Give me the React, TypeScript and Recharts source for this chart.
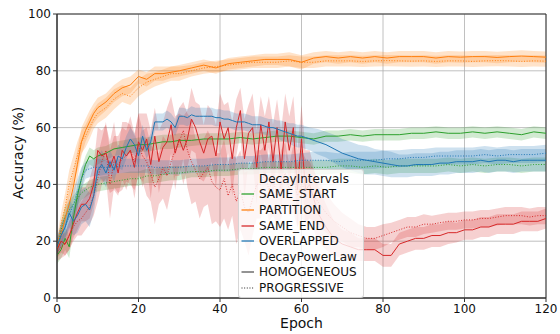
import React from "react";
import {
  ComposedChart,
  Line,
  Area,
  XAxis,
  YAxis,
  CartesianGrid,
  ReferenceArea,
  Label,
} from "recharts";

const X_TICKS = [0, 20, 40, 60, 80, 100, 120];
const Y_TICKS = [0, 20, 40, 60, 80, 100];

// epochs sampled for the smoother curves
const GRID_SMOOTH = [
  0, 1, 2, 3, 4, 5, 6, 7, 8, 9, 10, 12, 14, 16, 18, 20, 22, 24, 26, 28, 30, 33,
  36, 39, 42, 45, 48, 51, 54, 57, 60, 63, 66, 69, 72, 75, 78, 81, 84, 87, 90,
  93, 96, 99, 102, 105, 108, 111, 114, 117, 120,
];

// epochs sampled for the noisy curves
const GRID_NOISY = [
  0, 1, 2, 3, 4, 5, 6, 7, 8, 9, 10, 11, 12, 13, 14, 15, 16, 17, 18, 19, 20, 21,
  22, 23, 24, 25, 26, 27, 28, 29, 30, 31, 32, 33, 34, 35, 36, 37, 38, 39, 40,
  41, 42, 43, 44, 45, 46, 47, 48, 49, 50, 51, 52, 53, 54, 55, 56, 57, 58, 59,
  60, 61, 62, 64, 66, 68, 70, 72, 74, 76, 78, 80, 82, 84, 86, 88, 90, 92, 94,
  96, 98, 100, 102, 104, 106, 108, 110, 112, 114, 116, 118, 120,
];

const PARTITION_HOMO = [
  17, 22, 28, 33, 39, 47, 55, 59, 62, 65, 67,
  69, 72, 74, 75, 78, 77, 79, 79, 79.5, 80,
  81, 82, 81, 82.5, 83, 83.5, 84, 84, 84, 83,
  84.5, 85, 84.5, 85, 84.5, 85, 84.5, 85, 85, 85,
  84.5, 85, 84.8, 85, 85, 84.7, 85, 85.2, 85, 84.8,
];
const PARTITION_HOMO_SD = [
  3, 4, 4, 5, 5, 5, 5, 4, 4, 3.5, 3.5,
  3, 3, 3, 3, 2.5, 2.5, 2.5, 2.5, 2, 2,
  2, 2, 2, 2, 2, 2, 2, 2, 2.5, 2.5,
  2, 2, 2, 2, 2, 2, 2, 2, 2, 2,
  2, 2, 2, 2, 2, 2, 2, 2, 2, 2,
];
const PARTITION_PROG = [
  18, 26, 32, 40, 45, 50, 55, 57, 60, 63, 65,
  67, 70, 72, 71, 74, 76, 77, 78, 79, 79,
  80, 81, 81.5, 82, 82.5, 83, 83, 83, 83.5, 83,
  83, 83.5, 83.5, 83.5, 83.3, 83.5, 83.6, 83.5, 83.4, 83.5,
  83.3, 83.5, 83.5, 83.3, 83.5, 83.6, 83.5, 83.3, 83.5, 83.4,
];
const PARTITION_PROG_SD = [
  3, 4, 5, 5, 5, 5, 4, 4, 4, 3.5, 3.5,
  3.5, 3.5, 3, 3, 3, 3, 2.5, 2.5, 2.5, 2.5,
  2, 2, 2, 2, 2, 2, 2, 2, 2, 2,
  2, 2, 2, 2, 2, 2, 2, 2, 2, 2,
  2, 2, 2, 2, 2, 2, 2, 2, 2, 2,
];

const SAME_START_HOMO = [
  15, 17, 21, 18, 28, 36, 42, 47, 50, 49, 50,
  51, 52.5, 53, 53.5, 54, 54, 54.5, 55, 55, 55.5,
  55.5, 56, 56, 56, 56.5, 56, 56.5, 57, 57, 56.5,
  56, 57, 57, 57.5, 57, 57.5, 57.5, 57.5, 58, 58,
  58.5, 58, 58, 58.5, 58, 58.5, 58, 57.5, 58.5, 58,
];
const SAME_START_HOMO_SD = [
  3, 3, 4, 4, 4, 4, 3.5, 3, 3, 3, 3,
  2.5, 2.5, 2.5, 2.5, 2.5, 2.5, 2.5, 2.5, 2.5, 2.5,
  2, 2, 2, 2, 2, 2, 2, 2, 2, 2,
  2, 2, 2, 2, 2, 2, 2, 2, 2, 2,
  2, 2, 2, 2, 2, 2, 2, 2, 2, 2,
];
const SAME_START_PROG = [
  17, 24, 29, 31, 33, 35, 37, 38, 39, 39.5, 40,
  40.5, 41, 41.5, 42, 42, 43, 43, 43.5, 44, 44,
  44.5, 44.5, 45, 45, 45.5, 45.5, 46, 46, 46, 46,
  46, 46, 46.5, 46.5, 46, 46.5, 46, 46.5, 46.5, 46.5,
  46.5, 47, 46.5, 47, 46.5, 47, 47, 46.5, 47, 47,
];
const SAME_START_PROG_SD = [
  3, 3, 3, 3, 3, 3, 2.5, 2.5, 2.5, 2.5, 2.5,
  2.5, 2.5, 2.5, 2.5, 2.5, 2.5, 2.5, 2.5, 2.5, 2.5,
  2, 2, 2, 2, 2, 2, 2, 2, 2, 2,
  2.5, 2.5, 2.5, 2.5, 2.5, 2.5, 2.5, 2.5, 2.5, 2.5,
  2.5, 2.5, 2.5, 2.5, 2.5, 2.5, 2.5, 2.5, 2.5, 2.5,
];

const OVERLAPPED_PROG = [
  18, 22, 25, 29, 33, 37, 42, 45, 45.5, 46, 46,
  46, 46, 46.5, 46.5, 46.5, 46.5, 46, 46, 46, 46,
  46.5, 46.5, 47, 47, 47.5, 47.5, 48, 48, 48, 48.5,
  48.5, 48.5, 48, 48.5, 48.5, 48.5, 49, 49, 49.5, 49.5,
  50, 50, 50, 50, 50.5, 50, 50.5, 50.5, 50.5, 51,
];
const OVERLAPPED_PROG_SD = [
  3, 4, 4, 5, 5, 5, 4, 3, 3, 3, 3,
  2.5, 2.5, 2.5, 2.5, 2.5, 2.5, 2.5, 2.5, 2.5, 2.5,
  2.5, 2.5, 2.5, 2.5, 2.5, 2.5, 2.5, 2.5, 2.5, 2.5,
  3, 3, 3, 3, 3, 3, 3, 3, 3, 3,
  3, 3, 3, 3, 3, 3, 3, 3, 3, 3,
];

const OVERLAPPED_HOMO = [
  18, 22, 25, 30, 27, 29, 32, 33, 31, 36,
  45, 47, 44, 48, 45, 50, 49, 53, 56, 54,
  50, 57, 52, 55, 62, 62, 62, 63, 62, 60,
  64, 64, 63.5, 64.5, 64, 64, 64, 64, 64, 63.5,
  63.5, 63, 63, 62.5, 62, 62, 62, 61.5, 61, 61,
  61, 60.5, 60, 60, 59.5, 59, 58.5, 58, 57.5, 57,
  57, 56.5, 56,
  55, 54, 52.5, 51, 50, 49, 48.5, 48, 47.5, 47,
  46.5, 46.5, 47, 47, 47, 47.5, 47.5, 48, 48, 48,
  48.5, 48, 48.5, 48.5, 48, 48.5, 48.5, 48.5, 48.5,
];
const OVERLAPPED_HOMO_SD = [
  3, 4, 4, 5, 5, 6, 6, 6, 6, 6,
  5, 5, 5, 4, 4, 4, 4, 4, 4, 4,
  4, 4, 3, 3, 3, 3, 3, 3, 3, 3,
  3, 3, 3, 3, 3, 3, 3, 3, 3, 3,
  3, 3, 3, 3, 3, 3, 3, 3, 3, 3,
  3, 3, 3, 3, 3, 3.5, 3.5, 3.5, 4, 4,
  4, 4, 4,
  4.5, 4.5, 5, 5, 5, 5, 5, 4.5, 4.5, 4.5,
  4, 4, 4, 4, 4, 4, 4, 4, 4, 4,
  4, 4, 4, 4, 4, 4, 4, 4, 4,
];

const SAME_END_HOMO = [
  17, 20, 19, 22, 26, 30, 33, 33, 35, 40,
  52, 50, 51, 46, 50, 44, 52, 50, 52, 46,
  55, 52, 56, 47, 57, 48, 53, 55, 61, 51,
  56, 52, 56, 63, 60, 55, 51, 56, 57, 50,
  62, 56, 60, 49, 60, 66, 49, 58, 60, 46,
  61, 52, 62, 48, 60, 45, 62, 52, 60, 38,
  56, 38, 40,
  30, 25, 21, 19, 18, 17, 17, 17, 15, 15,
  19, 20, 21, 21, 22, 22, 23, 23, 24, 24,
  25, 25, 26, 26, 26, 27, 27, 27, 28,
];
const SAME_END_HOMO_SD = [
  3, 4, 4, 5, 5, 6, 6, 6, 7, 7,
  8, 9, 10, 9, 12, 8, 10, 12, 9, 11,
  10, 13, 9, 12, 10, 11, 9, 12, 10, 13,
  9, 12, 10, 11, 9, 13, 10, 12, 9, 11,
  10, 12, 9, 13, 10, 8, 14, 10, 12, 13,
  10, 12, 9, 13, 10, 14, 10, 12, 11, 14,
  12, 14, 12,
  10, 8, 6, 5, 5, 4, 4, 4, 4, 4,
  4, 4, 4, 4, 4, 4, 4, 3.5, 3.5, 3.5,
  3.5, 3.5, 3.5, 3.5, 3.5, 3.5, 3.5, 3.5, 3.5,
];
const SAME_END_PROG = [
  16, 18, 19, 22, 25, 27, 28, 30, 32, 36,
  42, 48, 52, 40, 48, 47, 49, 50, 52, 48,
  54, 50, 48, 44, 39, 42, 46, 43, 48, 52,
  55, 59, 52, 48, 45, 42, 44, 46, 41, 39,
  38, 42, 36, 40, 34, 38, 32, 30, 35, 40,
  40, 44, 38, 42, 36, 40, 44, 38, 42, 36,
  40, 38, 38,
  34, 30, 27, 25, 23, 22, 21, 21, 22, 23,
  24, 25, 25, 26, 26, 26.5, 27, 27, 27.5, 27.5,
  28, 28, 28.5, 29, 29, 29, 28.5, 29, 29,
];
const SAME_END_PROG_SD = [
  3, 4, 4, 5, 5, 5, 6, 6, 6, 7,
  8, 8, 10, 12, 9, 10, 11, 9, 12, 10,
  11, 9, 12, 10, 13, 9, 11, 12, 10, 9,
  12, 10, 13, 15, 11, 14, 12, 13, 15, 12,
  13, 14, 12, 11, 15, 14, 12, 15, 13, 12,
  12, 10, 11, 13, 10, 12, 11, 9, 12, 11,
  12, 11, 10,
  8, 7, 6, 5, 5, 4, 4, 4, 4, 3.5,
  3.5, 3.5, 3.5, 3.5, 3, 3, 3, 3, 3, 3,
  3, 3, 3, 3, 3, 3, 3, 3, 3,
];

const COLORS = {
  SAME_START: "#2ca02c",
  PARTITION: "#ff7f0e",
  SAME_END: "#d62728",
  OVERLAPPED: "#1f77b4",
};

const DOTTED = "1 1.65";

const toRows = (epochs: number[], mean: number[], sd: number[]) =>
  epochs.map((epoch, i) => ({
    epoch,
    mean: mean[i],
    band: [mean[i] - sd[i], mean[i] + sd[i]],
  }));

const series = [
  { key: "ss-h", color: COLORS.SAME_START, dotted: false, rows: toRows(GRID_SMOOTH, SAME_START_HOMO, SAME_START_HOMO_SD) },
  { key: "ss-p", color: COLORS.SAME_START, dotted: true, rows: toRows(GRID_SMOOTH, SAME_START_PROG, SAME_START_PROG_SD) },
  { key: "pa-h", color: COLORS.PARTITION, dotted: false, rows: toRows(GRID_SMOOTH, PARTITION_HOMO, PARTITION_HOMO_SD) },
  { key: "pa-p", color: COLORS.PARTITION, dotted: true, rows: toRows(GRID_SMOOTH, PARTITION_PROG, PARTITION_PROG_SD) },
  { key: "se-h", color: COLORS.SAME_END, dotted: false, rows: toRows(GRID_NOISY, SAME_END_HOMO, SAME_END_HOMO_SD) },
  { key: "se-p", color: COLORS.SAME_END, dotted: true, rows: toRows(GRID_NOISY, SAME_END_PROG, SAME_END_PROG_SD) },
  { key: "ov-h", color: COLORS.OVERLAPPED, dotted: false, rows: toRows(GRID_NOISY, OVERLAPPED_HOMO, OVERLAPPED_HOMO_SD) },
  { key: "ov-p", color: COLORS.OVERLAPPED, dotted: true, rows: toRows(GRID_SMOOTH, OVERLAPPED_PROG, OVERLAPPED_PROG_SD) },
];

const legendRows = [
  { label: "DecayIntervals" },
  { label: "SAME_START", color: COLORS.SAME_START },
  { label: "PARTITION", color: COLORS.PARTITION },
  { label: "SAME_END", color: COLORS.SAME_END },
  { label: "OVERLAPPED", color: COLORS.OVERLAPPED },
  { label: "DecayPowerLaw" },
  { label: "HOMOGENEOUS", color: "#555555" },
  { label: "PROGRESSIVE", color: "#555555", dotted: true },
];

const FONT = "'DejaVu Sans', sans-serif";

const YLabel = (props: any) => {
  const { viewBox } = props;
  const x = viewBox.x + 18;
  const y = viewBox.y + viewBox.height / 2 - 3;
  return (
    <text
      x={x}
      y={y}
      transform={`rotate(-90 ${x} ${y})`}
      textAnchor="middle"
      dominantBaseline="central"
      fontSize={14}
      fill="#111"
      fontFamily={FONT}
    >
      Accuracy (%)
    </text>
  );
};

export default function App() {
  return (
    <div style={{ position: "absolute", left: 0, top: 0, width: 560, height: 334, fontFamily: FONT }}>
      <ComposedChart width={560} height={334} margin={{ top: 14, right: 14, bottom: 0, left: 0 }}>
        <CartesianGrid stroke="#b0b0b0" strokeWidth={0.8} />
        <XAxis
          type="number"
          dataKey="epoch"
          domain={[0, 120]}
          ticks={X_TICKS}
          allowDataOverflow
          height={36}
          tickSize={4}
          stroke="#333"
          tick={{ fill: "#111", fontSize: 12, fontFamily: FONT }}
        >
          <Label value="Epoch" position="insideBottom" offset={6} fontSize={14} fill="#111" fontFamily={FONT} />
        </XAxis>
        <YAxis
          type="number"
          domain={[0, 100]}
          ticks={Y_TICKS}
          allowDataOverflow
          width={57}
          tickSize={4}
          stroke="#333"
          tick={{ fill: "#111", fontSize: 12, fontFamily: FONT }}
        >
          <Label content={YLabel} />
        </YAxis>
        {series.map((s) => (
          <Area
            key={`band-${s.key}`}
            data={s.rows}
            dataKey="band"
            type="linear"
            stroke="none"
            fill={s.color}
            fillOpacity={0.22}
            dot={false}
            activeDot={false}
            isAnimationActive={false}
          />
        ))}
        {series.map((s) => (
          <Line
            key={`line-${s.key}`}
            data={s.rows}
            dataKey="mean"
            type="linear"
            stroke={s.color}
            strokeWidth={1}
            strokeDasharray={s.dotted ? DOTTED : undefined}
            dot={false}
            activeDot={false}
            isAnimationActive={false}
          />
        ))}
        <ReferenceArea x1={0} x2={120} y1={0} y2={100} fill="none" stroke="#333" strokeWidth={1} ifOverflow="visible" />
      </ComposedChart>

      {/* legend box */}
      <div
        style={{
          position: "absolute",
          left: 238,
          top: 169,
          width: 124,
          padding: "1px 0",
          background: "rgba(255,255,255,0.8)",
          border: "1px solid rgba(204,204,204,0.8)",
          borderRadius: 3,
          fontSize: 12,
          color: "#111",
        }}
      >
        {legendRows.map((r) => (
          <div key={r.label} style={{ display: "flex", alignItems: "center", height: 15.6 }}>
            <svg width={20} height={10} style={{ flex: "none" }}>
              {r.color && (
                <line
                  x1={2.5}
                  x2={15}
                  y1={5}
                  y2={5}
                  stroke={r.color}
                  strokeOpacity={0.85}
                  strokeWidth={1.5}
                  strokeDasharray={r.dotted ? DOTTED : undefined}
                />
              )}
            </svg>
            <span style={{ whiteSpace: "nowrap" }}>{r.label}</span>
          </div>
        ))}
      </div>
    </div>
  );
}
